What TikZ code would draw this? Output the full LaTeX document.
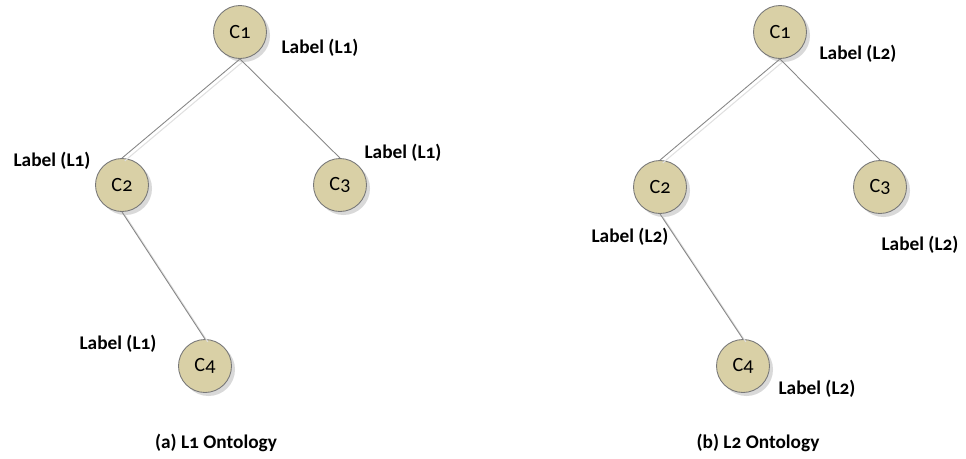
\documentclass[tikz,border=0pt]{standalone}
\usepackage{fontspec}
\setmainfont{Carlito}[Numbers=OldStyle]
\usetikzlibrary{shadows}

\definecolor{conceptfill}{RGB}{217,208,166}
\definecolor{conceptline}{RGB}{120,120,120}
\definecolor{edgeline}{RGB}{135,135,135}

\tikzset{
  concept/.style={circle, draw=conceptline, fill=conceptfill, line width=0.5pt,
    minimum size=1.06cm, inner sep=0pt, font=\fontsize{11.5}{12}\selectfont,
    drop shadow={shadow xshift=2pt, shadow yshift=-2pt, opacity=0.25, fill=black!60}},
  lbl/.style={font=\bfseries\fontsize{11}{12}\selectfont, inner sep=0pt},
  caption/.style={font=\bfseries\fontsize{11}{12}\selectfont, inner sep=0pt},
  edge/.style={draw=edgeline, line width=0.5pt},
  edgeshade/.style={draw=black!12, line width=0.6pt, transform canvas={shift={(1.6pt,-1.6pt)}}}
}

\begin{document}
\begin{tikzpicture}[x=0.02cm, y=-0.02cm]
\useasboundingbox (0,0) rectangle (966,458);

% left tree
\node[concept] (a1) at (240,32) {C1};
\node[concept] (a2) at (122,185) {C2};
\node[concept] (a3) at (340,185) {C3};
\node[concept] (a4) at (205,366) {C4};

\draw[edgeshade] (a1.south) -- (a2.north);
\draw[edgeshade] (a2.south) -- (a4.north);
\draw[edge] (a1.south) -- (a2.north);
\draw[edge] (a1.south) -- (a3.north);
\draw[edge] (a2.south) -- (a4.north);

\node[lbl] (la1) at (320,48) {Label (L1)};
\node[lbl] (la2) at (52,161) {Label (L1)};
\node[lbl] (la3) at (403,153) {Label (L1)};
\node[lbl] (la4) at (118,344) {Label (L1)};
\node[caption] (ca) at (216,443) {(a) L1 Ontology};

% right tree
\node[concept] (b1) at (780,32) {C1};
\node[concept] (b2) at (660,187) {C2};
\node[concept] (b3) at (880,187) {C3};
\node[concept] (b4) at (743,366) {C4};

\draw[edgeshade] (b1.south) -- (b2.north);
\draw[edgeshade] (b2.south) -- (b4.north);
\draw[edge] (b1.south) -- (b2.north);
\draw[edge] (b1.south) -- (b3.north);
\draw[edge] (b2.south) -- (b4.north);

\node[lbl] (lb1) at (858,54) {Label (L2)};
\node[lbl] (lb2) at (630,237) {Label (L2)};
\node[lbl] (lb3) at (920,245) {Label (L2)};
\node[lbl] (lb4) at (817,389) {Label (L2)};
\node[caption] (cb) at (758,443) {(b) L2 Ontology};
\end{tikzpicture}
\end{document}
